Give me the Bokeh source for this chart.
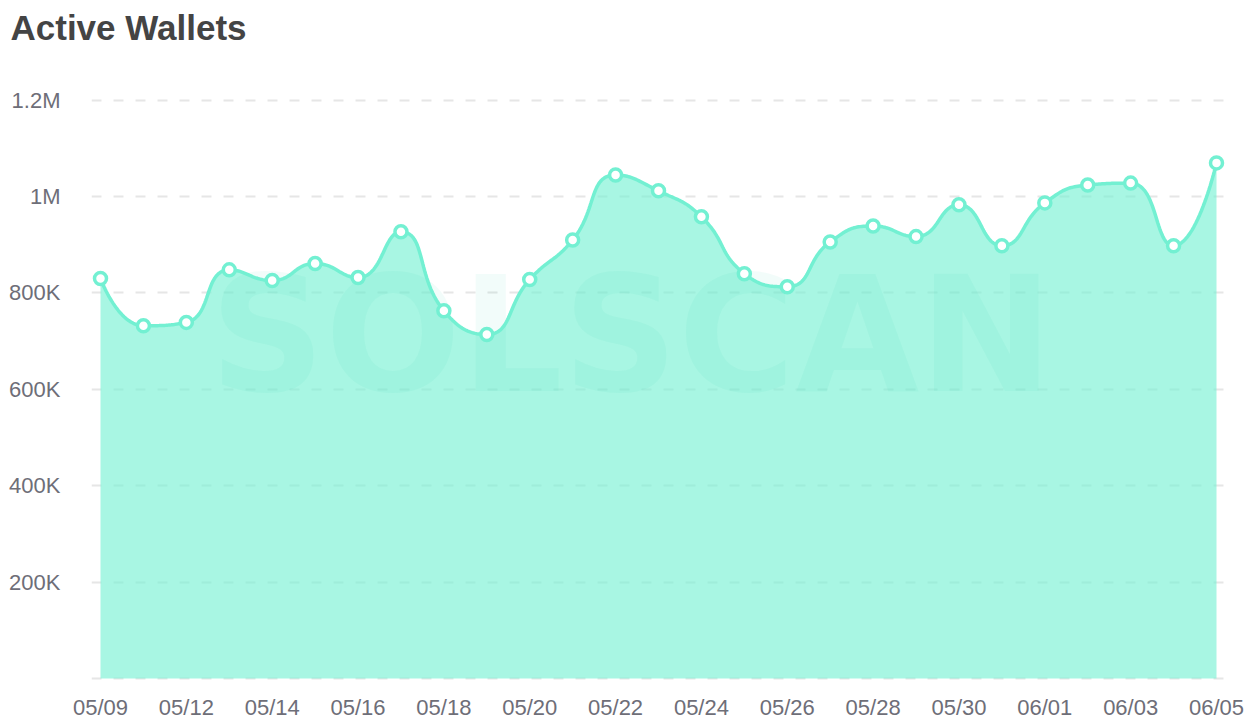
import numpy as np
from bokeh.plotting import figure
from bokeh.models import Range1d, FixedTicker, ColumnDataSource, Title
from bokeh.core.properties import value
from bokeh.embed import file_html
from bokeh.resources import INLINE

# ---- data ----
dates = ["05/09", "05/10", "05/12", "05/13", "05/14", "05/15", "05/16", "05/17",
         "05/18", "05/19", "05/20", "05/21", "05/22", "05/23", "05/24", "05/25",
         "05/26", "05/27", "05/28", "05/29", "05/30", "05/31", "06/01", "06/02",
         "06/03", "06/04", "06/05"]
wallets = [830000, 732000, 739000, 848000, 826000, 861000, 832000, 927000,
           763000, 714000, 828000, 910000, 1045000, 1012000, 958000, 840000,
           813000, 906000, 939000, 917000, 983000, 898000, 987000, 1024000,
           1028000, 898000, 1070000]
y_ticks = [0, 200000, 400000, 600000, 800000, 1000000, 1200000]
y_tick_labels = ["", "200K", "400K", "600K", "800K", "1M", "1.2M"]
title_text = "Active Wallets"

LINE = "#73f0d2"
PLOT_W, PLOT_H = 1116, 580      # span of the data area in pixels
PADX, PADB = 9, 2               # room so end markers / baseline are not clipped
FW, FH = PLOT_W + 2 * PADX, PLOT_H + PADB
FL, FR, FT, FB = 100 - PADX, 30, 98, 30
ymax = 1200000
ytop = ymax * 1.003

x = np.arange(len(wallets), dtype=float)
y = np.array(wallets, dtype=float)

# echarts-like constrained smooth bezier (smooth=0.5) in pixel space
sx = PLOT_W / (len(x) - 1)
sy = PLOT_H / ytop
px, py = x * sx, y * sy
smooth = 0.5
n = len(px)
segs = []
cpx0, cpy0 = px[0], py[0]
for i in range(n - 1):
    xx, yy = px[i], py[i]
    nx, ny = px[i + 1], py[i + 1]
    if i == n - 2:
        segs.append(((xx, yy), (cpx0, cpy0), (nx, ny), (nx, ny)))
        break
    cx_, cy_ = nx, ny
    prx, pry = xx, yy
    nnx, nny = px[i + 2], py[i + 2]
    vx, vy = nnx - prx, nny - pry
    l0 = np.hypot(cx_ - prx, cy_ - pry)
    l1 = np.hypot(nnx - cx_, nny - cy_)
    r = l1 / (l0 + l1)
    ncx = cx_ + vx * smooth * r
    ncy = cy_ + vy * smooth * r
    ncx = min(max(ncx, min(nnx, cx_)), max(nnx, cx_))
    ncy = min(max(ncy, min(nny, cy_)), max(nny, cy_))
    vx, vy = ncx - cx_, ncy - cy_
    c1x = cx_ - vx * l0 / l1
    c1y = cy_ - vy * l0 / l1
    c1x = min(max(c1x, min(prx, cx_)), max(prx, cx_))
    c1y = min(max(c1y, min(pry, cy_)), max(pry, cy_))
    vx, vy = cx_ - c1x, cy_ - c1y
    ncx = cx_ + vx * l1 / l0
    ncy = cy_ + vy * l1 / l0
    segs.append(((xx, yy), (cpx0, cpy0), (c1x, c1y), (nx, ny)))
    cpx0, cpy0 = ncx, ncy

cx, cy = [], []
t = np.linspace(0, 1, 30)
for k, (p0, p1, p2, p3) in enumerate(segs):
    p0, p1, p2, p3 = map(np.array, (p0, p1, p2, p3))
    b = ((1 - t) ** 3)[:, None] * p0 + (3 * (1 - t) ** 2 * t)[:, None] * p1 \
        + (3 * (1 - t) * t ** 2)[:, None] * p2 + (t ** 3)[:, None] * p3
    if k > 0:
        b = b[1:]
    cx.extend(b[:, 0] / sx); cy.extend(b[:, 1] / sy)

p = figure(frame_width=FW, frame_height=FH, output_backend="svg",
           toolbar_location=None,
           x_range=Range1d(-PADX / sx, len(x) - 1 + PADX / sx),
           y_range=Range1d(-PADB / sy, ytop),
           min_border_left=FL, min_border_right=FR, min_border_top=FT,
           min_border_bottom=FB, outline_line_color=None)

# spacer panel (closest to the frame) + real title above it
spacer = Title(text=" ", text_font_size="1px", standoff=46)
p.add_layout(spacer, "above")
ttl = Title(text=title_text, text_font="Liberation Sans", text_font_size="35px",
            text_font_style="bold", text_color="#444444", align="left",
            offset=-90 + PADX, standoff=2, vertical_align="top")
p.add_layout(ttl, "above")

p.xgrid.grid_line_color = None
p.ygrid.ticker = FixedTicker(ticks=y_ticks)
p.ygrid.grid_line_color = "#e6e6e6"
p.ygrid.grid_line_width = 2
p.ygrid.grid_line_dash = "10 12"

for ax in (p.xaxis[0], p.yaxis[0]):
    ax.axis_line_color = None
    ax.major_tick_line_color = None
    ax.minor_tick_line_color = None
    ax.major_tick_out = 0
    ax.major_tick_in = 0
    ax.minor_tick_out = 0
    ax.axis_label_standoff = 0
    ax.major_label_text_font = "Liberation Sans"
    ax.major_label_text_font_size = "22px"
    ax.major_label_text_color = "#6e6e78"
p.yaxis.ticker = FixedTicker(ticks=y_ticks)
p.yaxis.major_label_overrides = {t_: l for t_, l in zip(y_ticks, y_tick_labels)}
p.yaxis.major_label_standoff = 40 - PADX
p.xaxis.ticker = FixedTicker(ticks=list(range(0, len(dates), 2)))
p.xaxis.major_label_overrides = {i: dates[i] for i in range(0, len(dates), 2)}
p.xaxis.major_label_standoff = 16 - PADB

p.varea(x=cx, y1=0, y2=cy, fill_color=LINE, fill_alpha=0.62)
p.text(x=[12.37], y=[712000], text=["SOLSCAN"], text_font=value("DejaVu Sans"),
       text_font_style="bold", text_font_size="160px", text_align="center",
       text_baseline="middle", text_color="#00c8a0", text_alpha=0.05)
p.line(x=cx, y=cy, line_color=LINE, line_width=3.5)
src = ColumnDataSource(dict(x=x, y=y, d=dates))
p.scatter("x", "y", source=src, size=12, fill_color="white", line_color=LINE,
          line_width=3.5)

open("out.html", "w").write(file_html(p, INLINE))
